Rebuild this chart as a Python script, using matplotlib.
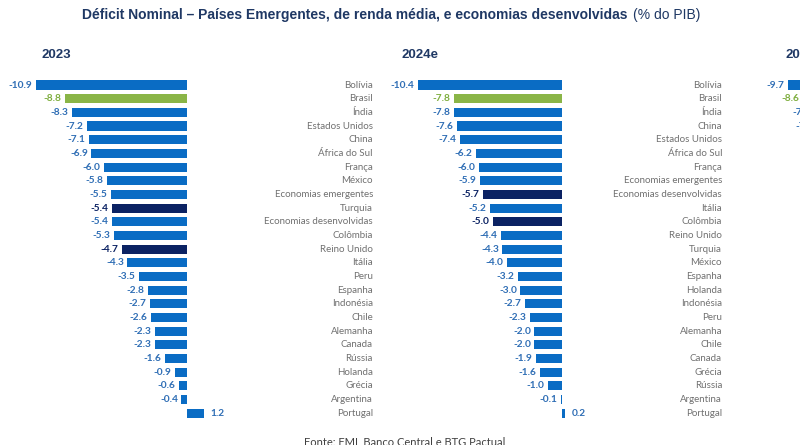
import matplotlib
matplotlib.use("Agg")
import matplotlib.pyplot as plt

# ---------------- dados (% do PIB) ----------------
paises_2023 = ["Bolívia", "Brasil", "Índia", "Estados Unidos", "China", "África do Sul",
               "França", "México", "Economias emergentes", "Turquia",
               "Economias desenvolvidas", "Colômbia", "Reino Unido", "Itália", "Peru",
               "Espanha", "Indonésia", "Chile", "Alemanha", "Canada", "Rússia",
               "Holanda", "Grécia", "Argentina", "Portugal"]
valores_2023 = [-10.9, -8.8, -8.3, -7.2, -7.1, -6.9, -6.0, -5.8, -5.5, -5.4, -5.4, -5.3,
                -4.7, -4.3, -3.5, -2.8, -2.7, -2.6, -2.3, -2.3, -1.6, -0.9, -0.6, -0.4, 1.2]
cores_2023 = ["b", "g", "b", "b", "b", "b", "b", "b", "b", "d", "b", "b",
              "d", "b", "b", "b", "b", "b", "b", "b", "b", "b", "b", "b", "b"]

paises_2024 = ["Bolívia", "Brasil", "Índia", "China", "Estados Unidos", "África do Sul",
               "França", "Economias emergentes", "Economias desenvolvidas", "Itália",
               "Colômbia", "Reino Unido", "Turquia", "México", "Espanha", "Holanda",
               "Indonésia", "Peru", "Alemanha", "Chile", "Canada", "Grécia", "Rússia",
               "Argentina", "Portugal"]
valores_2024 = [-10.4, -7.8, -7.8, -7.6, -7.4, -6.2, -6.0, -5.9, -5.7, -5.2, -5.0, -4.4,
                -4.3, -4.0, -3.2, -3.0, -2.7, -2.3, -2.0, -2.0, -1.9, -1.6, -1.0, -0.1, 0.2]
cores_2024 = ["b", "g", "b", "b", "b", "b", "b", "b", "d", "b", "d", "b",
              "b", "b", "b", "b", "b", "b", "b", "b", "b", "b", "b", "b", "b"]

# terceiro painel (cortado na imagem original)
valores_2025 = [-9.7, -8.6, -7.8, -7.6, -7.3]
cores_2025 = ["b", "g", "b", "b", "b"]

AZUL = "#0A6CC4"
VERDE = "#8AB547"
ESCURO = "#0B2263"
cor_barra = {"b": AZUL, "g": VERDE, "d": ESCURO}
cor_texto = {"b": "#2F6EB5", "g": "#7FAE3E", "d": ESCURO}
CINZA = "#707070"

W, H = 800, 445
fig = plt.figure(figsize=(8, 4.45), dpi=100)

ESC = 13.85          # px por ponto percentual
Y0, DY = 85, 13.67   # centro da primeira linha e passo (px)
N = 25


def painel(zero_px, valores, cores, paises=None, lab_px=None, titulo="", tit_px=0):
    """desenha um painel de barras horizontais; zero_px = posição do zero em px"""
    left_px, width_px = zero_px - 170, 370
    top_px = Y0 - DY / 2
    bot_px = Y0 + DY * (N - 0.5)
    ax = fig.add_axes([left_px / W, (H - bot_px) / H, width_px / W, (bot_px - top_px) / H])
    ax.set_xlim(-170 / ESC, 200 / ESC)
    ax.set_ylim(N - 0.5, -0.5)
    ax.axis("off")
    pos = list(range(len(valores)))
    ax.barh(pos, valores, height=0.66, color=[cor_barra[c] for c in cores])
    for i, v in enumerate(valores):
        if v < 0:
            ax.text(v - 3.5 / ESC, i, f"{v:.1f}", ha="right", va="center", fontsize=7.3,
                    fontweight="bold", color=cor_texto[cores[i]], family="Lato")
        else:
            ax.text(v + 7 / ESC, i, f"{v:.1f}", ha="left", va="center", fontsize=7.3,
                    fontweight="bold", color=cor_texto[cores[i]], family="Lato")
    if paises is not None:
        for i, p in enumerate(paises):
            ax.text((lab_px - zero_px) / ESC, i, p, ha="right", va="center",
                    fontsize=7.0, color=CINZA, family="Lato")
    fig.text(tit_px / W, 1 - 55 / H, titulo, ha="left", va="center", fontsize=9.5,
             fontweight="bold", color="#1F3864", family="Liberation Sans")
    return ax


painel(187, valores_2023, cores_2023, paises_2023, 373, "2023", 41)
painel(562, valores_2024, cores_2024, paises_2024, 722, "2024e", 402)
painel(922, valores_2025, cores_2025, None, None, "2025e", 785)

# título
fig.text(82 / W, 1 - 15 / H,
         "Déficit Nominal – Países Emergentes, de renda média, e economias desenvolvidas",
         ha="left", va="center", fontsize=10, fontweight="bold", color="#1F3864",
         family="Liberation Sans")
fig.text(633 / W, 1 - 15 / H, "(% do PIB)", ha="left", va="center", fontsize=10,
         color="#1F3864", family="Liberation Sans")

fig.text(405 / W, 1 - 442 / H, "Fonte: FMI, Banco Central e BTG Pactual", ha="center",
         va="center", fontsize=8, color="#404040", family="Lato")

fig.savefig("out.png", dpi=100)
